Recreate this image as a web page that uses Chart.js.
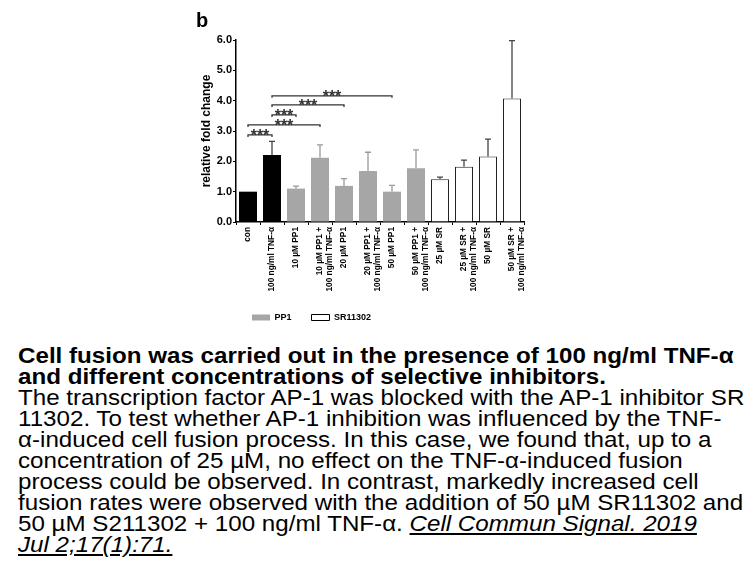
<!DOCTYPE html>
<html>
<head>
<meta charset="utf-8">
<script src="https://cdn.jsdelivr.net/npm/chart.js@4.4.1/dist/chart.umd.min.js"></script>
<style>
    body { margin: 0; background: #fff; width: 756px; height: 567px; overflow: hidden; position: relative; }
    #chartBox { position: absolute; left: 196px; top: 6px; width: 340px; height: 326px; }
    #caption { position: absolute; left: 18px; top: 345px; font-family: "Liberation Sans", Arial, sans-serif;
        font-size: 22px; line-height: 21px; color: #000; white-space: nowrap;
        transform: scaleX(1.098); transform-origin: left top; }
    #caption b { font-weight: bold; }
    #caption .cite { font-style: italic; text-decoration: underline; }
</style>
</head>
<body>
<div id="chartBox"><canvas id="fusionChart"></canvas></div>
<div id="caption">
<b>Cell fusion was carried out in the presence of 100 ng/ml TNF-α</b><br>
<b>and different concentrations of selective inhibitors.</b><br>
The transcription factor AP-1 was blocked with the AP-1 inhibitor SR<br>
11302. To test whether AP-1 inhibition was influenced by the TNF-<br>
α-induced cell fusion process. In this case, we found that, up to a<br>
concentration of 25 µM, no effect on the TNF-α-induced fusion<br>
process could be observed. In contrast, markedly increased cell<br>
fusion rates were observed with the addition of 50 µM SR11302 and<br>
50 µM S211302 + 100 ng/ml TNF-α. <span class="cite">Cell Commun Signal. 2019 </span><br>
<span class="cite">Jul 2;17(1):71.</span>
</div>
<script>
// --- data -------------------------------------------------------------
var conditions = [
    'con', '100 ng/ml TNF-α',
    '10 µM PP1', ['10 µM PP1 +', '100 ng/ml TNF-α'],
    '20 µM PP1', ['20 µM PP1 +', '100 ng/ml TNF-α'],
    '50 µM PP1', ['50 µM PP1 +', '100 ng/ml TNF-α'],
    '25 µM SR', ['25 µM SR +', '100 ng/ml TNF-α'],
    '50 µM SR', ['50 µM SR +', '100 ng/ml TNF-α']
];
var inhibitor = ['none', 'none', 'PP1', 'PP1', 'PP1', 'PP1', 'PP1', 'PP1', 'SR', 'SR', 'SR', 'SR'];
var foldChange = [1.0, 2.21, 1.1, 2.12, 1.19, 1.68, 1.0, 1.77, 1.41, 1.82, 2.16, 4.07];
var sdUpper = [0, 0.45, 0.08, 0.42, 0.24, 0.62, 0.21, 0.61, 0.07, 0.22, 0.57, 1.91];
var yTicks = [0, 1, 2, 3, 4, 5, 6];
// significance brackets: [from index, to index, height]
var sigPairs = [[0, 1, 2.87], [0, 3, 3.2], [1, 2, 3.53], [1, 4, 3.86], [1, 6, 4.16]];
var sigLabel = '***';
var legendNames = ['PP1', 'SR11302'];

// --- styles -----------------------------------------------------------
var FONT = '"Liberation Sans", Arial, sans-serif';
var fillFor = {none: '#000000', PP1: '#a6a6a6', SR: '#ffffff'};
var errFor = {none: '#444444', PP1: '#9a9a9a', SR: '#444444'};

function barFill(ctx) { return fillFor[inhibitor[ctx.dataIndex]]; }
function barBorder(ctx) { return inhibitor[ctx.dataIndex] == 'SR' ? 1 : 0; }

// --- plugins ----------------------------------------------------------
var errorBars = {
    id: 'errorBars',
    afterDatasetsDraw: function (chart) {
        var ctx = chart.ctx;
        var y = chart.scales.y;
        var meta = chart.getDatasetMeta(0);
        ctx.save();
        ctx.lineWidth = 1.3;
        meta.data.forEach(function (bar, i) {
            if (!sdUpper[i]) {
                return;
            }
            var y0 = y.getPixelForValue(foldChange[i]);
            var y1 = y.getPixelForValue(foldChange[i] + sdUpper[i]);
            ctx.strokeStyle = errFor[inhibitor[i]];
            ctx.beginPath();
            ctx.moveTo(bar.x, y0);
            ctx.lineTo(bar.x, y1);
            ctx.moveTo(bar.x - 3, y1);
            ctx.lineTo(bar.x + 3, y1);
            ctx.stroke();
        });
        ctx.restore();
    }
};

var sigBrackets = {
    id: 'sigBrackets',
    afterDatasetsDraw: function (chart) {
        var ctx = chart.ctx;
        var x = chart.scales.x;
        var y = chart.scales.y;
        ctx.save();
        ctx.strokeStyle = '#333';
        ctx.fillStyle = '#333';
        ctx.lineWidth = 1.3;
        ctx.font = 'bold 16px ' + FONT;
        ctx.textAlign = 'center';
        ctx.textBaseline = 'alphabetic';
        sigPairs.forEach(function (p) {
            var x1 = x.getPixelForValue(p[0]);
            var x2 = x.getPixelForValue(p[1]);
            var yy = y.getPixelForValue(p[2]);
            ctx.beginPath();
            ctx.moveTo(x1, yy + 2);
            ctx.lineTo(x1, yy);
            ctx.lineTo(x2, yy);
            ctx.lineTo(x2, yy + 2);
            ctx.stroke();
            ctx.fillText(sigLabel, (x1 + x2) / 2, yy + 6);
        });
        ctx.restore();
    }
};

var legendShift = {// move legend so it starts under the plot, not the canvas edge
    id: 'legendShift',
    afterLayout: function (chart) {
        var lg = chart.legend;
        var w = lg.right - lg.left;
        lg.left = chart.chartArea.left - 4;
        lg.right = lg.left + w;
    }
};

// --- chart ------------------------------------------------------------
new Chart(document.getElementById('fusionChart'), {
    type: 'bar',
    data: {
        labels: conditions,
        datasets: [{
            data: foldChange,
            backgroundColor: barFill,
            borderColor: '#222',
            borderWidth: barBorder,
            barPercentage: 0.75,
            categoryPercentage: 1.0
        }]
    },
    options: {
        responsive: true,
        maintainAspectRatio: false,
        animation: false,
        events: [],
        layout: {padding: {right: 12}},
        plugins: {
            title: {
                display: true,
                text: 'b',
                align: 'start',
                color: '#000',
                font: {family: FONT, size: 20, weight: 'bold'},
                padding: {top: 3, bottom: 7}
            },
            legend: {
                position: 'bottom',
                align: 'start',
                labels: {
                    color: '#000',
                    font: {family: FONT, size: 9, weight: 'bold'},
                    boxWidth: 18,
                    boxHeight: 6,
                    padding: 20,
                    generateLabels: function () {
                        return [
                            {text: legendNames[0], fillStyle: fillFor.PP1, strokeStyle: fillFor.PP1, lineWidth: 0},
                            {text: legendNames[1], fillStyle: fillFor.SR, strokeStyle: '#000', lineWidth: 1}
                        ];
                    }
                }
            },
            tooltip: {enabled: false}
        },
        scales: {
            x: {
                afterFit: function (s) { s.height = 71; },
                grid: {display: true, drawOnChartArea: false, tickLength: 3, color: '#000', offset: true},
                border: {color: '#000', width: 1.5},
                ticks: {
                    autoSkip: false,
                    maxRotation: 90,
                    minRotation: 90,
                    padding: 2,
                    color: '#000',
                    font: {family: FONT, size: 8.3, weight: 'bold', lineHeight: 1.15}
                }
            },
            y: {
                min: 0,
                max: 6,
                afterFit: function (s) { s.width = 40; },
                afterBuildTicks: function (s) {
                    s.ticks = yTicks.map(function (v) { return {value: v}; });
                },
                grid: {display: true, drawOnChartArea: false, tickLength: 3, color: '#000'},
                border: {color: '#000', width: 1.5},
                ticks: {
                    padding: 1,
                    color: '#000',
                    font: {family: FONT, size: 11, weight: 'bold'},
                    callback: function (v) { return v.toFixed(1); }
                },
                title: {
                    display: true,
                    text: 'relative fold change',
                    color: '#000',
                    padding: {top: 3, bottom: 0},
                    font: {family: FONT, size: 12, weight: 'bold'}
                }
            }
        }
    },
    plugins: [errorBars, sigBrackets, legendShift]
});
</script>
</body>
</html>
